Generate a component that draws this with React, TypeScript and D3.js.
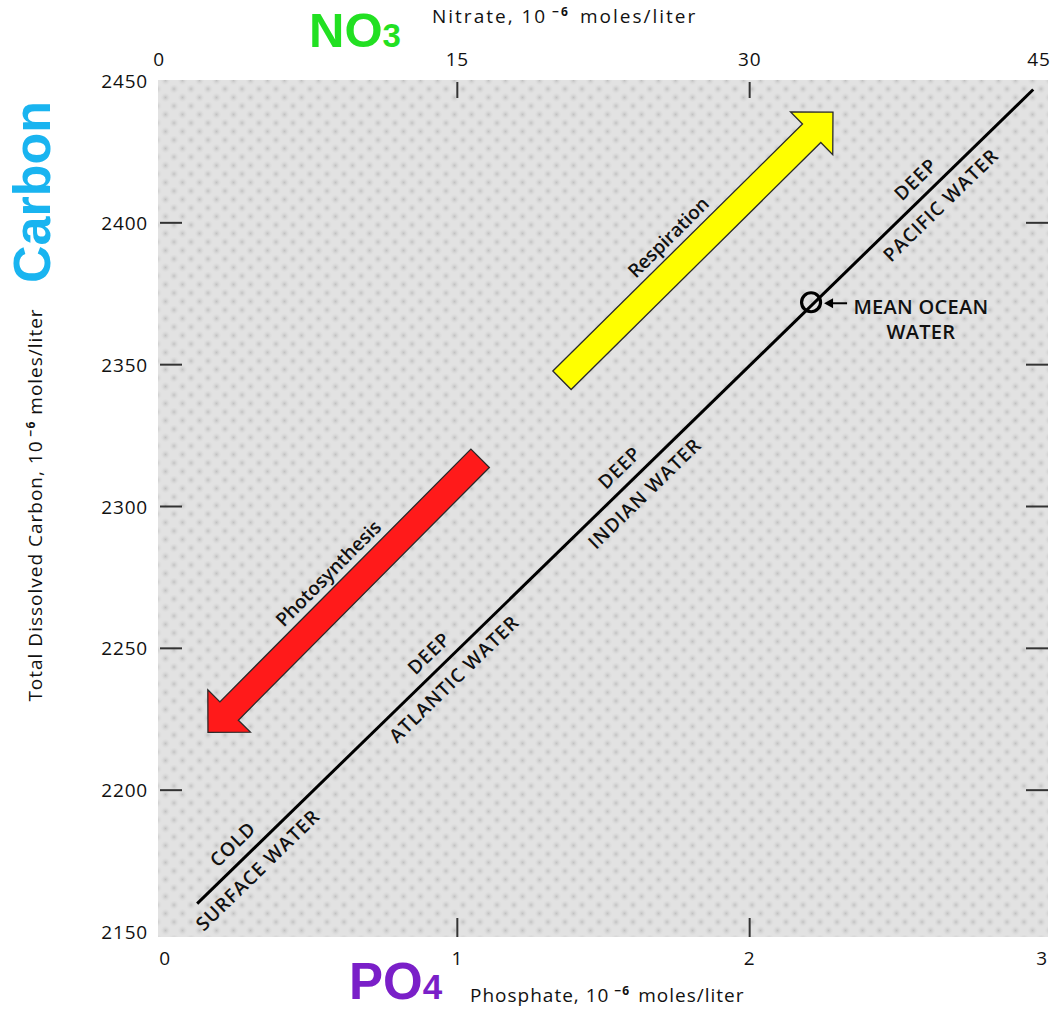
import React from "react";
import * as d3 from "d3";

// ---- data ----
const phosphateTicks = [0, 1, 2, 3];
const nitrateTicks = [0, 15, 30, 45];
const carbonTicks = [2150, 2200, 2250, 2300, 2350, 2400, 2450];
const innerCarbonTicks = [2200, 2250, 2300, 2350, 2400];
const innerPhosphateTicks = [1, 2];
const innerNitrateTicks = [15, 30];

// trend line endpoints [phosphate, carbon]
const trendLine: [number, number][] = [
  [0.11, 2160],
  [2.97, 2447],
];
const meanOcean: [number, number] = [2.21, 2372];

// arrows: tail -> tip [phosphate, carbon]
const arrows = [
  { name: "Photosynthesis", tail: [1.078, 2317], tip: [0.147, 2220.4], fill: "#ff1a1a", label: [0.558, 2276.5] },
  { name: "Respiration", tail: [1.358, 2344.5], tip: [2.285, 2439], fill: "#ffff00", label: [1.721, 2395] },
];

// water mass labels placed along the line at phosphate position
const waterLabels = [
  { p: 0.274, above: "COLD", below: "SURFACE WATER" },
  { p: 0.945, above: "DEEP", below: "ATLANTIC WATER" },
  { p: 1.597, above: "DEEP", below: "INDIAN WATER" },
  { p: 2.61, above: "DEEP", below: "PACIFIC WATER" },
];

const meanLabel = { p: 2.586, lines: ["MEAN OCEAN", "WATER"], c1: 2368, c2: 2359 };

const FONT = "'Open Sans', 'DejaVu Sans', sans-serif";
const BIG = "'Liberation Sans', Arial, sans-serif";

export default function App() {
  const W = 1053;
  const H = 1010;
  const plot = { x0: 158, x1: 1048, y0: 80, y1: 937 };

  const x = d3.scaleLinear().domain([0, 3]).range([165, 1042]);
  const xN = d3.scaleLinear().domain([0, 45]).range([165, 1042]);
  const y = d3.scaleLinear().domain([2150, 2450]).range([932, 81]);

  const lx1 = x(trendLine[0][0]);
  const ly1 = y(trendLine[0][1]);
  const lx2 = x(trendLine[1][0]);
  const ly2 = y(trendLine[1][1]);
  const lineAng = Math.atan2(ly2 - ly1, lx2 - lx1);
  const lineDeg = (lineAng * 180) / Math.PI;
  const nx = Math.sin(lineAng);
  const ny = -Math.cos(lineAng);
  const lineGen = d3.line<[number, number]>().x((d) => x(d[0])).y((d) => y(d[1]));

  const pointOnLine = (p: number) => {
    const t = (p - trendLine[0][0]) / (trendLine[1][0] - trendLine[0][0]);
    return [lx1 + t * (lx2 - lx1), ly1 + t * (ly2 - ly1)];
  };

  const arrowPath = (L: number) => {
    const sw = 13;
    const hw = 30;
    const hl = 30;
    const pts = [
      [0, -sw],
      [L - hl, -sw],
      [L - hl, -hw],
      [L, 0],
      [L - hl, hw],
      [L - hl, sw],
      [0, sw],
    ];
    return "M" + pts.map((p) => p.join(",")).join("L") + "Z";
  };

  const cx = x(meanOcean[0]);
  const cy = y(meanOcean[1]);

  return (
    <svg
      width={W}
      height={H}
      style={{ position: "absolute", left: 0, top: 0, display: "block", background: "#fff" }}
    >
      <defs>
        <radialGradient id="dot">
          <stop offset="0%" stopColor="#c2c2c2" />
          <stop offset="100%" stopColor="#e2e2e2" stopOpacity="0" />
        </radialGradient>
        <pattern id="tex" width="17" height="17" patternUnits="userSpaceOnUse">
          <rect width="17" height="17" fill="#e2e2e2" />
          <circle cx="4" cy="4" r="5.5" fill="url(#dot)" />
          <circle cx="12.5" cy="12.5" r="5.5" fill="url(#dot)" />
        </pattern>
      </defs>

      {/* plot background */}
      <rect x={plot.x0} y={plot.y0} width={plot.x1 - plot.x0} height={plot.y1 - plot.y0} fill="url(#tex)" />

      {/* ticks */}
      <g stroke="#333" strokeWidth={2}>
        {innerCarbonTicks.map((c) => (
          <g key={c}>
            <line x1={plot.x0 + 2} x2={plot.x0 + 24} y1={y(c)} y2={y(c)} />
            <line x1={plot.x1 - 22} x2={plot.x1} y1={y(c)} y2={y(c)} />
          </g>
        ))}
        {innerPhosphateTicks.map((p) => (
          <line key={p} x1={x(p)} x2={x(p)} y1={plot.y1 - 19} y2={plot.y1} />
        ))}
        {innerNitrateTicks.map((n) => (
          <line key={n} x1={xN(n)} x2={xN(n)} y1={plot.y0 + 2} y2={plot.y0 + 18} />
        ))}
      </g>

      {/* tick labels */}
      <g fontFamily={FONT} fontSize={19} fill="#111" letterSpacing={0.8}>
        {carbonTicks.map((c) => (
          <text key={c} x={148} y={y(c)} textAnchor="end" dominantBaseline="central">
            {c}
          </text>
        ))}
        {phosphateTicks.map((p) => (
          <text key={p} x={x(p)} y={965} textAnchor="middle">
            {p}
          </text>
        ))}
        {nitrateTicks.map((n) => (
          <text key={n} x={xN(n) - (n === 0 ? 6 : n === 45 ? 3 : 0)} y={66} textAnchor="middle">
            {n}
          </text>
        ))}
      </g>

      {/* axis titles */}
      <g fontFamily={FONT} fontSize={19} fill="#111" letterSpacing={1}>
        <text x={432} y={23} letterSpacing={2}>
          Nitrate, 10
          <tspan fontSize={12} fontWeight={700} dy={-7} dx={5}>
            −6
          </tspan>
          <tspan dy={7} dx={10}>moles/liter</tspan>
        </text>
        <text x={470} y={1002}>
          Phosphate, 10
          <tspan fontSize={12} fontWeight={700} dy={-7} dx={5}>
            −6
          </tspan>
          <tspan dy={7} dx={8}>moles/liter</tspan>
        </text>
        <text transform={`translate(42,505) rotate(-90)`} textAnchor="middle">
          Total Dissolved Carbon, 10
          <tspan fontSize={12} fontWeight={700} dy={-7} dx={4}>
            −6
          </tspan>
          <tspan dy={7} dx={6}>moles/liter</tspan>
        </text>
      </g>

      {/* big chemical labels */}
      <text x={309} y={47} fontFamily={BIG} fontWeight={700} fontSize={49} fill="#22e022">
        NO<tspan fontSize={33}>3</tspan>
      </text>
      <text x={349} y={999} fontFamily={BIG} fontWeight={700} fontSize={51} fill="#7a1fc8">
        PO<tspan fontSize={35}>4</tspan>
      </text>
      <text
        transform={`translate(50,192) rotate(-90)`}
        textAnchor="middle"
        fontFamily={BIG}
        fontWeight={700}
        fontSize={52}
        fill="#19b4f0"
      >
        Carbon
      </text>

      {/* trend line */}
      <path d={lineGen(trendLine) || ""} stroke="#000" strokeWidth={3} fill="none" />

      {/* water labels */}
      <g fontFamily={FONT} fontWeight={600} fontSize={19} fill="#111" letterSpacing={1}>
        {waterLabels.map((w, i) => {
          const [fx, fy] = pointOnLine(w.p);
          const off = 18;
          return (
            <g key={i}>
              <text
                transform={`translate(${fx + nx * off},${fy + ny * off}) rotate(${lineDeg})`}
                textAnchor="middle"
                dominantBaseline="central"
              >
                {w.above}
              </text>
              <text
                transform={`translate(${fx - nx * off},${fy - ny * off}) rotate(${lineDeg})`}
                textAnchor="middle"
                dominantBaseline="central"
              >
                {w.below}
              </text>
            </g>
          );
        })}
      </g>

      {/* mean ocean water marker */}
      <circle cx={cx} cy={cy} r={9.5} fill="none" stroke="#000" strokeWidth={3.2} />
      <line x1={cx + 36} x2={cx + 20} y1={cy + 1} y2={cy + 1} stroke="#000" strokeWidth={2} />
      <path
        d={`M${cx + 13},${cy + 1}L${cx + 22},${cy - 4}L${cx + 22},${cy + 6}Z`}
        fill="#000"
      />
      <g fontFamily={FONT} fontWeight={600} fontSize={20} fill="#111" textAnchor="middle" letterSpacing={0.3}>
        <text x={x(meanLabel.p)} y={y(meanLabel.c1)}>
          {meanLabel.lines[0]}
        </text>
        <text x={x(meanLabel.p)} y={y(meanLabel.c2)}>
          {meanLabel.lines[1]}
        </text>
      </g>

      {/* arrows */}
      {arrows.map((a) => {
        const tx = x(a.tail[0]);
        const ty = y(a.tail[1]);
        const hx = x(a.tip[0]);
        const hy = y(a.tip[1]);
        const ang = Math.atan2(hy - ty, hx - tx);
        const L = Math.hypot(hx - tx, hy - ty);
        const deg = (ang * 180) / Math.PI;
        let textDeg = deg;
        if (textDeg > 90) textDeg -= 180;
        if (textDeg < -90) textDeg += 180;
        return (
          <g key={a.name}>
            <path
              d={arrowPath(L)}
              transform={`translate(${tx},${ty}) rotate(${deg})`}
              fill={a.fill}
              stroke="#2a2a2a"
              strokeWidth={1.3}
              strokeLinejoin="miter"
            />
            <text
              transform={`translate(${x(a.label[0])},${y(a.label[1])}) rotate(${textDeg})`}
              textAnchor="middle"
              dominantBaseline="central"
              fontFamily={FONT}
              fontWeight={600}
              fontSize={19}
              fill="#111"
            >
              {a.name}
            </text>
          </g>
        );
      })}
    </svg>
  );
}
